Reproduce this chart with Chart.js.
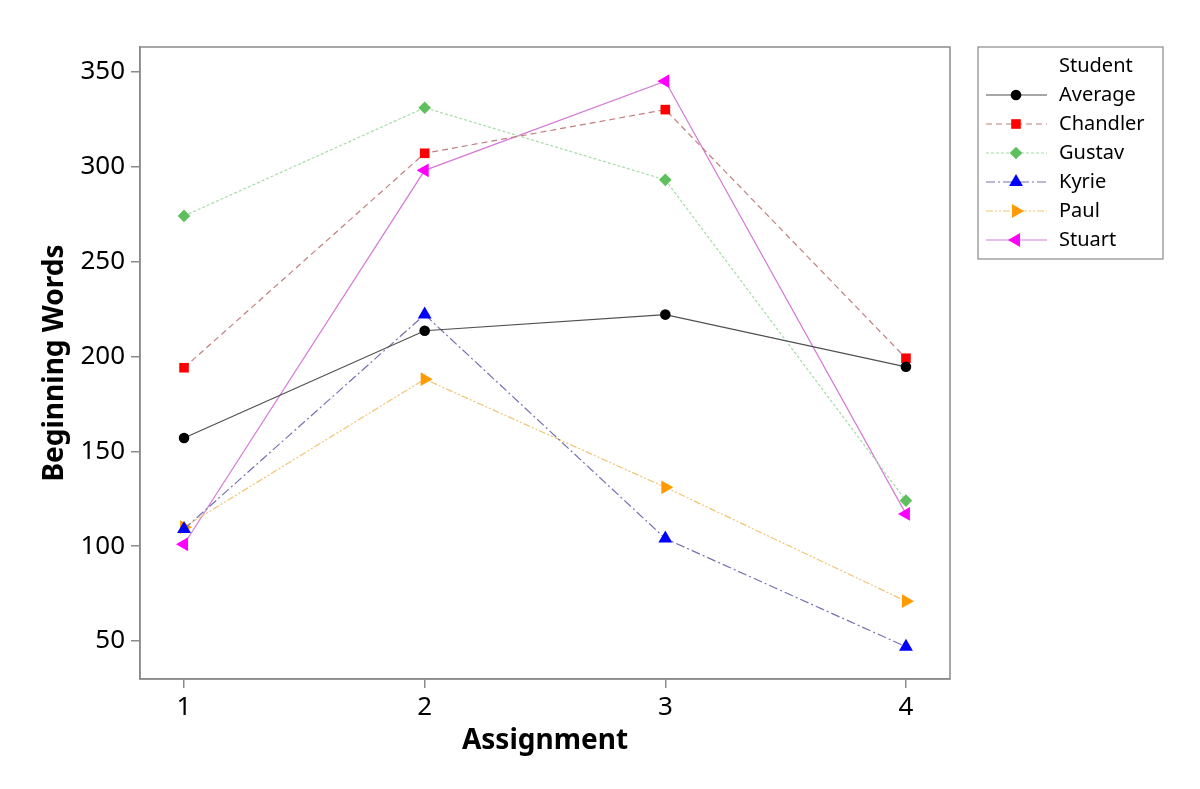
<!DOCTYPE html>
<html>
<head>
<meta charset="utf-8">
<script src="https://cdn.jsdelivr.net/npm/chart.js@4"></script>
<style>
  html, body { margin: 0; padding: 0; background: #ffffff; }
  #wrap { width: 1200px; height: 789px; position: relative; }
</style>
</head>
<body>
<div id="wrap"><canvas id="c" width="1200" height="789"></canvas></div>
<script>
// ---- data ----
const assignments = [1, 2, 3, 4];
const yTicks = [50, 100, 150, 200, 250, 300, 350];
const legendTitle = "Student";
const studentNames = ["Average", "Chandler", "Gustav", "Kyrie", "Paul", "Stuart"];
const averageWords  = [157, 213.5, 222, 194.5];
const chandlerWords = [194, 307, 330, 199];
const gustavWords   = [274, 331, 293, 124];
const kyrieWords    = [109, 222, 104, 47];
const paulWords     = [110, 188, 131, 71];
const stuartWords   = [101, 298, 345, 117];

const seriesValues = [averageWords, chandlerWords, gustavWords, kyrieWords, paulWords, stuartWords];

// ---- styles ----
const styles = [
  { line: '#505050', point: '#000000', style: 'circle',   radius: 5.3, rot: 0,   dash: [] },
  { line: '#c07f7f', point: '#ff0000', style: 'rect',     radius: 6.8, rot: 0,   dash: [6, 4] },
  { line: '#a6dca6', point: '#5fbf5f', style: 'rectRot',  radius: 6.3, rot: 0,   dash: [3, 2] },
  { line: '#7272b4', point: '#0000ff', style: 'triangle', radius: 8,   rot: 0,   dash: [9, 3, 2, 3] },
  { line: '#f0c574', point: '#ff9a00', style: 'triangle', radius: 8,   rot: 90,  dash: [7, 2, 2, 2, 2, 2] },
  { line: '#d57ad5', point: '#ff00ff', style: 'triangle', radius: 8,   rot: -90, dash: [] }
];

const datasets = studentNames.map((name, i) => ({
  label: name,
  data: assignments.map((a, j) => ({ x: a, y: seriesValues[i][j] })),
  borderColor: styles[i].line,
  borderWidth: 1.2,
  borderDash: styles[i].dash,
  pointStyle: styles[i].style,
  pointRadius: styles[i].radius,
  pointRotation: styles[i].rot,
  pointBackgroundColor: styles[i].point,
  pointBorderColor: styles[i].point,
  pointBorderWidth: 0,
  fill: false,
  tension: 0
}));

const FONT = '"Noto Sans", "Open Sans", sans-serif';

function drawMarker(ctx, st, x, y) {
  const opts = { pointStyle: st.style, radius: st.radius, rotation: st.rot, borderWidth: 0 };
  ctx.save();
  ctx.fillStyle = st.point;
  ctx.strokeStyle = st.point;
  if (Chart.helpers && Chart.helpers.drawPoint) {
    Chart.helpers.drawPoint(ctx, opts, x, y);
  } else {
    ctx.beginPath();
    ctx.arc(x, y, st.radius, 0, Math.PI * 2);
    ctx.fill();
  }
  ctx.restore();
}

const framePlugin = {
  id: 'frame',
  afterDraw(chart) {
    const { ctx, chartArea: a } = chart;
    ctx.save();
    ctx.strokeStyle = '#8a8a8a';
    ctx.lineWidth = 1.5;
    ctx.strokeRect(a.left, a.top, a.right - a.left, a.bottom - a.top);

    // legend box
    const bx = 978, by = 47, bw = 185, bh = 212;
    ctx.strokeStyle = '#8a8a8a';
    ctx.lineWidth = 1.2;
    ctx.strokeRect(bx, by, bw, bh);
    ctx.fillStyle = '#000000';
    ctx.font = '20px ' + FONT;
    ctx.textBaseline = 'middle';
    ctx.textAlign = 'left';
    ctx.fillText(legendTitle, 1059, 66);
    chart.data.datasets.forEach((ds, i) => {
      const y = 95 + i * 29;
      const st = styles[i];
      ctx.save();
      ctx.strokeStyle = st.line;
      ctx.lineWidth = 1.2;
      ctx.setLineDash(st.dash);
      ctx.beginPath();
      ctx.moveTo(986, y);
      ctx.lineTo(1047, y);
      ctx.stroke();
      ctx.restore();
      drawMarker(ctx, st, 1016, y);
      ctx.fillStyle = '#000000';
      ctx.font = '20px ' + FONT;
      ctx.textBaseline = 'middle';
      ctx.fillText(ds.label, 1059, y);
    });
    ctx.restore();
  }
};

new Chart(document.getElementById('c'), {
  type: 'line',
  data: { datasets },
  plugins: [framePlugin],
  options: {
    responsive: false,
    animation: false,
    devicePixelRatio: 1,
    layout: { padding: { left: 0, top: 47, right: 250, bottom: 0 } },
    plugins: {
      legend: { display: false },
      tooltip: { enabled: false }
    },
    scales: {
      x: {
        type: 'linear',
        min: 0.817,
        max: 4.183,
        afterBuildTicks(scale) { scale.ticks = assignments.map(v => ({ value: v })); },
        afterFit(scale) { scale.height = 110; },
        grid: { display: true, drawOnChartArea: false, drawTicks: true, tickLength: 9, color: '#8a8a8a', lineWidth: 1.5 },
        border: { display: true, color: '#8a8a8a', width: 1.5 },
        ticks: { color: '#000000', font: { family: FONT, size: 26 }, padding: 4, maxRotation: 0 },
        title: { display: true, text: 'Assignment', color: '#000000', font: { family: FONT, size: 28, weight: 'bold' }, padding: { top: 31, bottom: 31 } }
      },
      y: {
        type: 'linear',
        min: 30,
        max: 363,
        afterBuildTicks(scale) { scale.ticks = yTicks.map(v => ({ value: v })); },
        afterFit(scale) { scale.width = 140; },
        grid: { display: true, drawOnChartArea: false, drawTicks: true, tickLength: 9, color: '#8a8a8a', lineWidth: 1.5 },
        border: { display: true, color: '#8a8a8a', width: 1.5 },
        ticks: { color: '#000000', font: { family: FONT, size: 26 }, padding: 6 },
        title: { display: true, text: 'Beginning Words', color: '#000000', font: { family: FONT, size: 28, weight: 'bold' }, padding: { top: 38, bottom: 38 } }
      }
    }
  }
});
</script>
</body>
</html>
